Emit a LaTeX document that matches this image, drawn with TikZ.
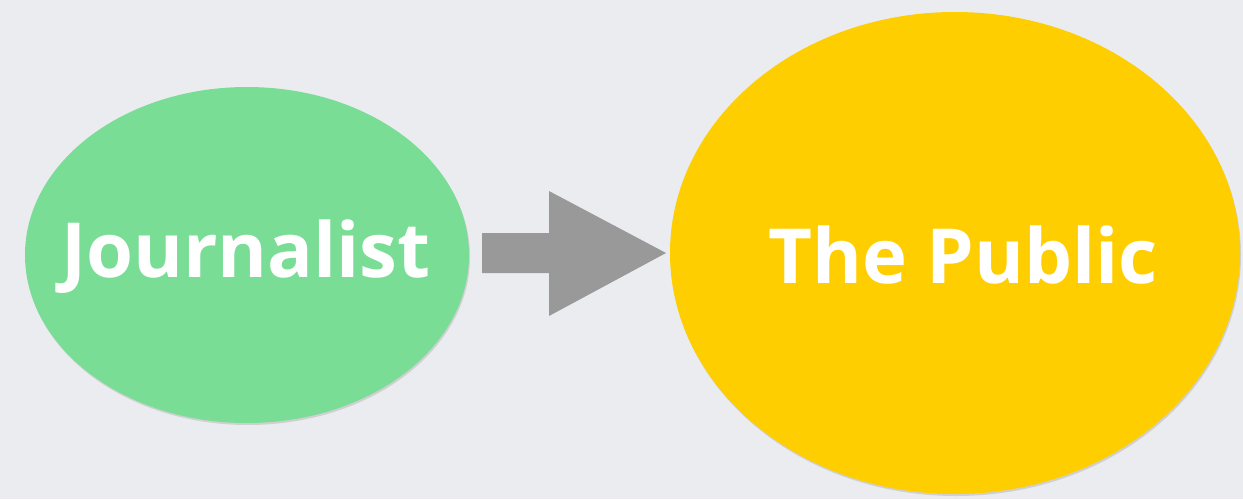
\documentclass[tikz,border=0pt]{standalone}
\usepackage{fontspec}
\setmainfont{Open Sans}
\usetikzlibrary{shadows}
\definecolor{bgc}{HTML}{EBECEF}
\definecolor{greenc}{HTML}{79DD96}
\definecolor{yellowc}{HTML}{FFCE00}
\definecolor{arrowc}{HTML}{999999}
\begin{document}
\begin{tikzpicture}[x=1pt,y=-1pt,
  blob/.style={draw=none, drop shadow={opacity=0.25, shadow xshift=1pt, shadow yshift=-2pt}},
  lbl/.style={text=white, font=\bfseries\fontsize{76}{80}\selectfont, inner sep=0pt}]
\fill[bgc] (0,0) rectangle (1243,499);
\useasboundingbox (0,0) rectangle (1243,499);
\fill[blob, fill=greenc] (247,255) ellipse [x radius=222, y radius=168];
\fill[blob, fill=yellowc] (955,253) ellipse [x radius=285, y radius=241];
\node[lbl] (journalist) at (246,257) {Journalist};
\node[lbl] (public) at (963,255) {The Public};
\coordinate (a1) at (482,233);
\coordinate (a2) at (549,233);
\coordinate (a3) at (549,191);
\coordinate (tip) at (666,253);
\coordinate (a5) at (549,316);
\coordinate (a6) at (549,273);
\coordinate (a7) at (482,273);
\fill[arrowc] (a1) -- (a2) -- (a3) -- (tip) -- (a5) -- (a6) -- (a7) -- cycle;
\end{tikzpicture}
\end{document}
